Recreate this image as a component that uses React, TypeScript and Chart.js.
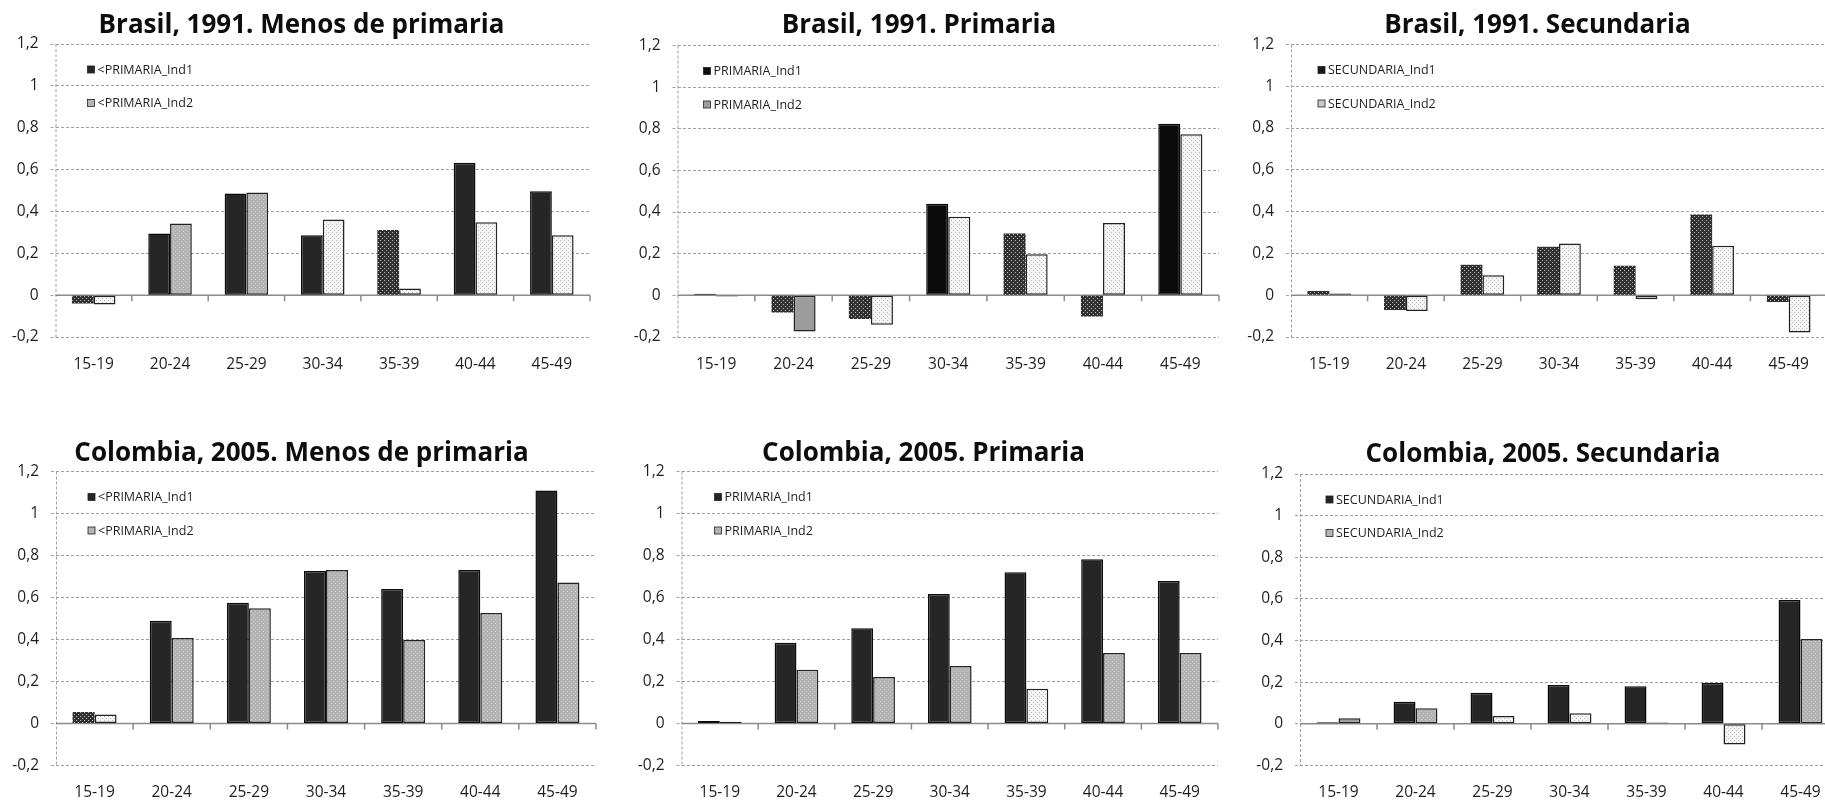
import { useEffect, useRef } from 'react';
import { Chart, registerables } from 'chart.js';

Chart.register(...registerables);

// ---------- data ----------
const CATEGORIES = ['15-19', '20-24', '25-29', '30-34', '35-39', '40-44', '45-49'];
const Y_TICK_VALUES = [-0.2, 0, 0.2, 0.4, 0.6, 0.8, 1, 1.2];

const BR_MENOS_IND1 = [-0.04, 0.294, 0.486, 0.286, 0.311, 0.632, 0.496];
const BR_MENOS_IND2 = [-0.045, 0.342, 0.491, 0.361, 0.032, 0.348, 0.286];
const BR_PRIM_IND1 = [0.008, -0.082, -0.114, 0.44, 0.297, -0.101, 0.824];
const BR_PRIM_IND2 = [-0.006, -0.173, -0.141, 0.378, 0.198, 0.347, 0.774];
const BR_SEC_IND1 = [0.02, -0.071, 0.146, 0.232, 0.141, 0.386, -0.032];
const BR_SEC_IND2 = [0.008, -0.075, 0.095, 0.248, -0.019, 0.237, -0.178];
const CO_MENOS_IND1 = [0.055, 0.489, 0.575, 0.726, 0.641, 0.731, 1.11];
const CO_MENOS_IND2 = [0.043, 0.407, 0.549, 0.731, 0.398, 0.526, 0.671];
const CO_PRIM_IND1 = [0.012, 0.385, 0.453, 0.617, 0.72, 0.782, 0.678];
const CO_PRIM_IND2 = [0.008, 0.256, 0.222, 0.274, 0.165, 0.336, 0.336];
const CO_SEC_IND1 = [0.008, 0.106, 0.149, 0.187, 0.181, 0.198, 0.595];
const CO_SEC_IND2 = [0.027, 0.075, 0.038, 0.051, 0.006, -0.099, 0.408];

// ---------- per-bar fill styles (D dark, K black, X crosshatch, G gray dotted, L light dotted, M mid gray) ----------
type Sty = 'D' | 'K' | 'X' | 'G' | 'L' | 'M';
const BR_MENOS_STY1: Sty[] = ['X', 'D', 'D', 'D', 'X', 'D', 'D'];
const BR_MENOS_STY2: Sty[] = ['L', 'G', 'G', 'L', 'L', 'L', 'L'];
const BR_PRIM_STY1: Sty[] = ['K', 'X', 'X', 'K', 'X', 'X', 'K'];
const BR_PRIM_STY2: Sty[] = ['L', 'M', 'L', 'L', 'L', 'L', 'L'];
const BR_SEC_STY1: Sty[] = ['X', 'X', 'X', 'X', 'X', 'X', 'X'];
const BR_SEC_STY2: Sty[] = ['L', 'L', 'L', 'L', 'L', 'L', 'L'];
const CO_MENOS_STY1: Sty[] = ['X', 'D', 'D', 'D', 'D', 'D', 'D'];
const CO_MENOS_STY2: Sty[] = ['L', 'G', 'G', 'G', 'G', 'G', 'G'];
const CO_PRIM_STY1: Sty[] = ['D', 'D', 'D', 'D', 'D', 'D', 'D'];
const CO_PRIM_STY2: Sty[] = ['L', 'G', 'G', 'G', 'L', 'G', 'G'];
const CO_SEC_STY1: Sty[] = ['D', 'D', 'D', 'D', 'D', 'D', 'D'];
const CO_SEC_STY2: Sty[] = ['M', 'G', 'L', 'L', 'L', 'L', 'G'];

const FONT = '"Open Sans", "DejaVu Sans", sans-serif';
const Y_AXIS_W = 50;
const X_AXIS_H = 45;

interface Rect { x: number; y: number; w: number; h: number }
interface PlotRect { l: number; r: number; t: number; b: number }
interface PanelCfg {
  title: string;
  label1: string;
  label2: string;
  v1: number[];
  v2: number[];
  s1: Sty[];
  s2: Sty[];
  legendColors: [string, string];
  canvas: Rect;
  plot: PlotRect;
  titleX: number;
  titleBase: number;
  legendDX: number;
}

const PANELS: PanelCfg[] = [
  {
    title: 'Brasil, 1991. Menos de primaria', label1: '<PRIMARIA_Ind1', label2: '<PRIMARIA_Ind2',
    v1: BR_MENOS_IND1, v2: BR_MENOS_IND2, s1: BR_MENOS_STY1, s2: BR_MENOS_STY2,
    legendColors: ['#262626', '#b4b4b4'],
    canvas: { x: 0, y: 0, w: 610, h: 400 }, plot: { l: 55.5, r: 590, t: 44, b: 337 },
    titleX: 301.5, titleBase: 33, legendDX: 32,
  },
  {
    title: 'Brasil, 1991. Primaria', label1: 'PRIMARIA_Ind1', label2: 'PRIMARIA_Ind2',
    v1: BR_PRIM_IND1, v2: BR_PRIM_IND2, s1: BR_PRIM_STY1, s2: BR_PRIM_STY2,
    legendColors: ['#0b0b0b', '#9c9c9c'],
    canvas: { x: 615, y: 0, w: 610, h: 400 }, plot: { l: 677.5, r: 1219, t: 45.5, b: 337 },
    titleX: 919, titleBase: 33, legendDX: 26,
  },
  {
    title: 'Brasil, 1991. Secundaria', label1: 'SECUNDARIA_Ind1', label2: 'SECUNDARIA_Ind2',
    v1: BR_SEC_IND1, v2: BR_SEC_IND2, s1: BR_SEC_STY1, s2: BR_SEC_STY2,
    legendColors: ['#1a1a1a', '#c8c8c8'],
    canvas: { x: 1230, y: 0, w: 610, h: 400 }, plot: { l: 1291, r: 1827, t: 44.5, b: 337 },
    titleX: 1537.5, titleBase: 33, legendDX: 27,
  },
  {
    title: 'Colombia, 2005. Menos de primaria', label1: '<PRIMARIA_Ind1', label2: '<PRIMARIA_Ind2',
    v1: CO_MENOS_IND1, v2: CO_MENOS_IND2, s1: CO_MENOS_STY1, s2: CO_MENOS_STY2,
    legendColors: ['#262626', '#b4b4b4'],
    canvas: { x: 0, y: 400, w: 610, h: 412 }, plot: { l: 56, r: 596, t: 471.5, b: 765.5 },
    titleX: 301.5, titleBase: 460.5, legendDX: 32,
  },
  {
    title: 'Colombia, 2005. Primaria', label1: 'PRIMARIA_Ind1', label2: 'PRIMARIA_Ind2',
    v1: CO_PRIM_IND1, v2: CO_PRIM_IND2, s1: CO_PRIM_STY1, s2: CO_PRIM_STY2,
    legendColors: ['#262626', '#b4b4b4'],
    canvas: { x: 615, y: 400, w: 610, h: 412 }, plot: { l: 681.5, r: 1218, t: 471.5, b: 765.5 },
    titleX: 923.5, titleBase: 460.5, legendDX: 33,
  },
  {
    title: 'Colombia, 2005. Secundaria', label1: 'SECUNDARIA_Ind1', label2: 'SECUNDARIA_Ind2',
    v1: CO_SEC_IND1, v2: CO_SEC_IND2, s1: CO_SEC_STY1, s2: CO_SEC_STY2,
    legendColors: ['#262626', '#b4b4b4'],
    canvas: { x: 1230, y: 400, w: 610, h: 412 }, plot: { l: 1300, r: 1839, t: 474, b: 765.5 },
    titleX: 1543, titleBase: 462, legendDX: 26,
  },
];

function makeTile(size: number, bg: string, dots: [number, number][], dotColor: string) {
  const c = document.createElement('canvas');
  c.width = size;
  c.height = size;
  const g = c.getContext('2d')!;
  g.fillStyle = bg;
  g.fillRect(0, 0, size, size);
  g.fillStyle = dotColor;
  dots.forEach(([x, y]) => g.fillRect(x, y, 1, 1));
  return c;
}

function fmtTick(v: number) {
  const r = Math.round(v * 10) / 10;
  return String(r).replace('.', ',');
}

function Panel({ cfg }: { cfg: PanelCfg }) {
  const ref = useRef<HTMLCanvasElement>(null);

  useEffect(() => {
    const canvas = ref.current!;
    const ctx = canvas.getContext('2d')!;
    const pats: Record<string, CanvasPattern | string> = {
      X: ctx.createPattern(makeTile(4, '#2f2f2f', [[0, 0], [2, 2]], '#c4c4c4'), 'repeat')!,
      G: ctx.createPattern(makeTile(4, '#b3b3b3', [[1, 1], [3, 3]], '#cbcbcb'), 'repeat')!,
      L: ctx.createPattern(makeTile(4, '#f4f4f4', [[0, 0], [2, 2]], '#bdbdbd'), 'repeat')!,
      D: '#262626',
      K: '#0b0b0b',
      M: '#9c9c9c',
    };
    const fill = (s: Sty) => pats[s];
    const bColor = (s: Sty) => (s === 'D' || s === 'K' ? '#0a0a0a' : '#222222');
    const bWidth = (s: Sty) => (s === 'X' ? 0 : 1.5);

    const { canvas: cv, plot } = cfg;
    const padL = plot.l - cv.x - Y_AXIS_W;
    const padR = cv.x + cv.w - plot.r;
    const padT = plot.t - cv.y;
    const padB = cv.y + cv.h - plot.b - X_AXIS_H;

    const decor = {
      id: 'panelDecor',
      beforeDatasetsDraw(chart: any) {
        const c = chart.ctx;
        const a = chart.chartArea;
        const xs = chart.scales.x;
        const ys = chart.scales.y;
        c.save();
        // dashed vertical axis
        c.strokeStyle = '#a0a0a0';
        c.lineWidth = 1;
        c.setLineDash([3, 2]);
        c.beginPath();
        c.moveTo(a.left + 0.5, a.top);
        c.lineTo(a.left + 0.5, a.bottom);
        c.stroke();
        c.setLineDash([]);
        // zero line + category tick marks
        const y0 = ys.getPixelForValue(0);
        c.strokeStyle = '#8a8a8a';
        c.lineWidth = 1.5;
        c.beginPath();
        c.moveTo(a.left, y0);
        c.lineTo(a.right, y0);
        for (let i = 1; i <= CATEGORIES.length; i++) {
          const x = xs.getPixelForValue(i - 0.5);
          c.moveTo(x, y0);
          c.lineTo(x, y0 + 6);
        }
        c.stroke();
        c.restore();
      },
      afterDraw(chart: any) {
        const c = chart.ctx;
        const a = chart.chartArea;
        c.save();
        // title
        c.font = `bold 26px ${FONT}`;
        c.fillStyle = '#0d0d0d';
        c.textAlign = 'center';
        c.textBaseline = 'alphabetic';
        c.fillText(cfg.title, cfg.titleX - cv.x, cfg.titleBase - cv.y);
        // legend
        const labels = [cfg.label1, cfg.label2];
        const rows = [25.5, 59];
        c.font = `12.5px ${FONT}`;
        c.textAlign = 'left';
        c.textBaseline = 'middle';
        labels.forEach((lab, i) => {
          const bx = a.left + cfg.legendDX;
          const by = a.top + rows[i];
          c.fillStyle = cfg.legendColors[i];
          c.fillRect(bx, by - 3.5, 7, 7);
          c.strokeStyle = '#222';
          c.lineWidth = 0.8;
          c.strokeRect(bx, by - 3.5, 7, 7);
          c.fillStyle = '#1e1e1e';
          c.fillText(lab, bx + 10, by + 0.5);
        });
        c.restore();
      },
    };

    const chart = new Chart(ctx, {
      type: 'bar',
      data: {
        labels: CATEGORIES,
        datasets: [
          {
            label: cfg.label1,
            data: cfg.v1,
            backgroundColor: cfg.s1.map(fill) as any,
            borderColor: cfg.s1.map(bColor),
            borderWidth: cfg.s1.map(bWidth),
            borderSkipped: false,
            categoryPercentage: 0.57,
            barPercentage: 1,
          },
          {
            label: cfg.label2,
            data: cfg.v2,
            backgroundColor: cfg.s2.map(fill) as any,
            borderColor: cfg.s2.map(bColor),
            borderWidth: cfg.s2.map(bWidth),
            borderSkipped: false,
            categoryPercentage: 0.57,
            barPercentage: 1,
          },
        ],
      },
      options: {
        responsive: false,
        animation: false,
        devicePixelRatio: 1,
        events: [],
        layout: { autoPadding: false, padding: { left: padL, right: padR, top: padT, bottom: padB } },
        plugins: {
          legend: { display: false },
          title: { display: false },
          tooltip: { enabled: false },
        },
        scales: {
          x: {
            type: 'category',
            grid: { display: false, drawTicks: false },
            border: { display: false },
            ticks: {
              font: { family: FONT, size: 15.5 },
              color: '#1e1e1e',
              padding: 18,
              autoSkip: false,
              maxRotation: 0,
            },
            afterFit: (s: any) => {
              s.height = X_AXIS_H;
            },
          },
          y: {
            type: 'linear',
            min: -0.2,
            max: 1.2,
            afterBuildTicks: (s: any) => {
              s.ticks = Y_TICK_VALUES.map((v) => ({ value: v }));
            },
            ticks: {
              font: { family: FONT, size: 15.5 },
              color: '#1e1e1e',
              padding: 12,
              callback: (v: any) => fmtTick(Number(v)),
            },
            grid: {
              color: '#a0a0a0',
              lineWidth: 1,
              drawTicks: true,
              tickLength: 5,
              tickColor: '#a0a0a0',
              tickBorderDash: [3, 2],
            },
            border: { display: false, dash: [3, 2] },
            afterFit: (s: any) => {
              s.width = Y_AXIS_W;
            },
          },
        },
      } as any,
      plugins: [decor],
    });
    return () => chart.destroy();
  }, [cfg]);

  return (
    <canvas
      ref={ref}
      width={cfg.canvas.w}
      height={cfg.canvas.h}
      style={{
        position: 'absolute',
        left: cfg.canvas.x,
        top: cfg.canvas.y,
        width: cfg.canvas.w,
        height: cfg.canvas.h,
      }}
    />
  );
}

export default function App() {
  return (
    <div
      style={{
        position: 'fixed',
        left: 0,
        top: 0,
        width: 1825,
        height: 802,
        overflow: 'hidden',
        background: '#ffffff',
      }}
    >
      {PANELS.map((p) => (
        <Panel key={p.title} cfg={p} />
      ))}
    </div>
  );
}
